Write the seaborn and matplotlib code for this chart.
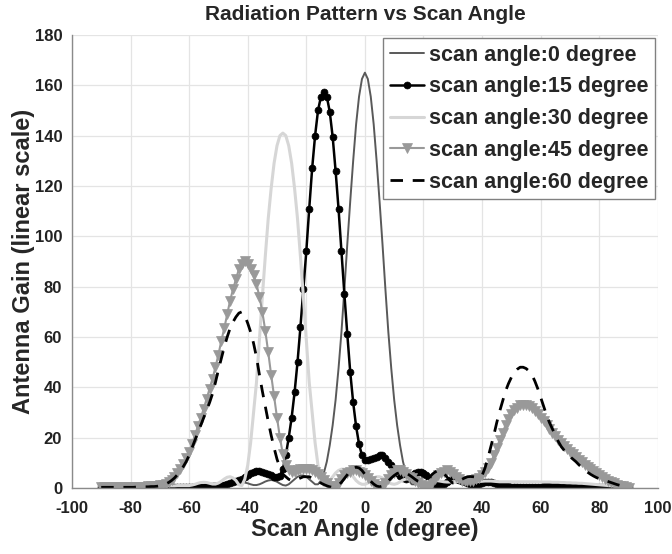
import matplotlib
matplotlib.use("Agg")
import matplotlib.pyplot as plt
import seaborn as sns

# scan angle grid (degrees)
angles = list(range(-90, 91))

# antenna gain, one value per degree from -90 to 90
gain_0 = [
    0.2, 0.2, 0.2, 0.2, 0.3, 0.3, 0.3, 0.3, 0.4, 0.4,
    0.4, 0.4, 0.5, 0.5, 0.5, 0.5, 0.5, 0.5, 0.5, 0.6,
    0.7, 0.7, 0.7, 0.6, 0.6, 0.6, 0.7, 0.8, 0.9, 1.0,
    1.0, 0.9, 0.8, 0.7, 0.7, 0.8, 1.0, 1.2, 1.3, 1.3,
    1.2, 1.0, 0.9, 0.9, 1.1, 1.4, 1.8, 2.1, 2.3, 2.2,
    1.9, 1.5, 1.2, 1.2, 1.5, 2.0, 2.6, 3.0, 3.2, 3.0,
    2.5, 1.8, 1.2, 1.0, 1.5, 2.5, 3.5, 4.5, 5.0, 5.0,
    4.5, 3.5, 2.5, 1.5, 1.5, 3.0, 6.0, 10.5, 17.0, 25.0,
    35.0, 47.5, 62.0, 79.0, 97.0, 114.0, 130.0, 144.5, 155.5, 162.5,
    165.0,
    162.5, 155.5, 144.5, 130.0, 114.0, 97.0, 79.0, 62.0, 47.5, 35.0,
    25.0, 17.0, 10.5, 6.0, 3.0, 1.5, 1.5, 2.5, 3.5, 4.5,
    5.0, 5.0, 4.5, 3.5, 2.5, 1.5, 1.0, 1.2, 1.8, 2.5,
    3.0, 3.2, 3.0, 2.6, 2.0, 1.5, 1.2, 1.2, 1.5, 1.9,
    2.2, 2.3, 2.1, 1.8, 1.4, 1.1, 0.9, 0.9, 1.0, 1.2,
    1.3, 1.3, 1.2, 1.0, 0.8, 0.7, 0.7, 0.8, 0.9, 1.0,
    1.0, 0.9, 0.8, 0.7, 0.6, 0.6, 0.6, 0.7, 0.7, 0.7,
    0.6, 0.5, 0.5, 0.5, 0.5, 0.5, 0.5, 0.5, 0.4, 0.4,
    0.4, 0.4, 0.3, 0.3, 0.3, 0.3, 0.2, 0.2, 0.2, 0.2,
]

gain_15 = [
    0.3, 0.3, 0.3, 0.3, 0.3, 0.3, 0.3, 0.3, 0.3, 0.3,
    0.3, 0.3, 0.3, 0.3, 0.3, 0.4, 0.4, 0.4, 0.4, 0.4,
    0.4, 0.4, 0.4, 0.5, 0.5, 0.5, 0.5, 0.5, 0.5, 0.5,
    0.5, 0.5, 0.6, 0.6, 0.6, 0.6, 0.7, 0.7, 0.8, 0.8,
    0.9, 1.1, 1.3, 1.6, 1.9, 2.3, 2.7, 3.2, 3.7, 4.3,
    5.0, 5.8, 6.5, 6.8, 6.8, 6.5, 6.0, 5.5, 5.0, 4.5,
    4.2, 4.8, 7.5, 13.0, 20.0, 28.0, 38.0, 50.0, 64.0, 79.0,
    94.0, 111.0, 127.0, 140.0, 150.0, 155.5, 157.5, 155.5, 149.5, 139.5,
    126.0, 111.0, 94.0, 77.0, 61.0, 46.0, 34.0, 24.5, 17.5, 13.0,
    11.0,
    11.0, 11.5, 12.0, 12.5, 13.0, 13.0, 12.0, 10.5, 9.0, 7.5,
    6.0, 4.8, 4.0, 3.8, 4.2, 5.0, 6.0, 6.5, 6.5, 6.0,
    5.0, 3.8, 2.6, 1.7, 1.2, 1.3, 1.8, 2.5, 3.2, 3.6,
    3.7, 3.4, 3.0, 2.5, 2.0, 1.6, 1.4, 1.5, 1.8, 2.2,
    2.5, 2.6, 2.5, 2.2, 1.8, 1.4, 1.1, 0.9, 0.7, 0.6,
    0.5, 0.5, 0.5, 0.5, 0.5, 0.5, 0.6, 0.6, 0.6, 0.6,
    0.7, 0.7, 0.7, 0.7, 0.7, 0.7, 0.7, 0.7, 0.7, 0.7,
    0.7, 0.7, 0.7, 0.7, 0.6, 0.6, 0.6, 0.6, 0.6, 0.5,
    0.5, 0.5, 0.5, 0.4, 0.4, 0.4, 0.3, 0.3, 0.3, 0.3,
]

gain_30 = [
    0.3, 0.3, 0.3, 0.3, 0.4, 0.4, 0.4, 0.4, 0.5, 0.5,
    0.5, 0.5, 0.6, 0.6, 0.6, 0.7, 0.7, 0.7, 0.8, 0.8,
    0.8, 0.8, 0.9, 0.9, 0.9, 0.9, 1.0, 1.0, 1.0, 1.0,
    1.0, 1.2, 1.5, 1.9, 2.2, 2.3, 2.2, 1.9, 1.6, 1.6,
    2.0, 2.7, 3.6, 4.3, 4.5, 4.0, 3.0, 1.3, 1.0, 3.5,
    9.0, 18.0, 30.0, 42.0, 59.0, 76.0, 92.0, 107.0, 119.0, 129.0,
    136.0, 140.0, 141.0, 140.0, 136.0, 129.0, 119.0, 107.0, 92.0, 76.0,
    59.0, 42.0, 30.0, 18.0, 9.0, 3.5, 1.0, 1.5, 3.0, 4.5,
    6.0, 7.0, 7.5, 7.5, 7.0, 6.0, 4.5, 3.0, 2.0, 1.5,
    1.5,
    2.0, 3.0, 4.0, 4.5, 4.5, 4.0, 3.2, 2.3, 1.7, 1.5,
    1.8, 2.5, 3.2, 3.6, 3.6, 3.3, 2.7, 2.2, 2.0, 2.2,
    2.5, 2.8, 3.0, 3.0, 2.9, 2.7, 2.5, 2.4, 2.4, 2.5,
    2.6, 2.7, 2.7, 2.6, 2.5, 2.4, 2.4, 2.5, 2.6, 2.7,
    2.8, 2.8, 2.8, 2.7, 2.6, 2.5, 2.5, 2.5, 2.5, 2.5,
    2.5, 2.5, 2.5, 2.5, 2.5, 2.5, 2.5, 2.5, 2.5, 2.4,
    2.4, 2.4, 2.4, 2.3, 2.3, 2.3, 2.2, 2.2, 2.1, 2.1,
    2.0, 2.0, 1.9, 1.9, 1.8, 1.7, 1.6, 1.5, 1.4, 1.3,
    1.2, 1.1, 1.0, 0.9, 0.8, 0.7, 0.6, 0.5, 0.4, 0.3,
]

gain_45 = [
    0.5, 0.5, 0.5, 0.5, 0.5, 0.5, 0.5, 0.5, 0.5, 0.5,
    0.5, 0.5, 0.5, 0.6, 0.6, 0.6, 0.7, 0.7, 0.8, 0.9,
    1.1, 1.4, 1.8, 2.4, 3.3, 4.4, 5.8, 7.5, 9.5, 12.0,
    14.5, 17.5, 21.0, 24.5, 28.0, 31.5, 35.5, 39.5, 43.5, 48.0,
    53.0, 58.5, 63.5, 69.0, 74.5, 79.0, 83.0, 87.0, 89.0, 90.0,
    89.0, 87.0, 84.5, 81.0, 76.0, 70.0, 62.5, 54.0, 45.0, 36.5,
    28.0, 20.0, 13.5, 9.0, 7.0, 6.5, 6.5, 7.0, 7.5, 7.5,
    7.5, 7.5, 7.0, 6.5, 5.5, 4.5, 3.2, 2.0, 1.0, 0.5,
    1.0, 2.0, 3.5, 5.0, 6.0, 6.5, 7.0, 7.0, 6.5, 6.0,
    5.0,
    4.0, 2.8, 1.6, 0.8, 0.5, 1.0, 2.0, 3.5, 5.0, 6.0,
    7.0, 7.0, 6.5, 5.5, 4.5, 4.0, 3.0, 2.0, 1.2, 0.6,
    0.5, 1.0, 2.0, 3.5, 5.0, 6.0, 6.5, 7.0, 6.5, 5.5,
    4.5, 3.5, 3.0, 3.0, 3.0, 3.0, 3.0, 3.5, 4.0, 5.0,
    6.5, 8.0, 10.0, 13.0, 16.0, 19.0, 22.0, 25.0, 27.5, 29.5,
    31.0, 32.0, 32.8, 33.0, 33.0, 32.5, 31.8, 30.8, 29.5, 28.0,
    26.5, 25.0, 23.5, 22.0, 20.5, 19.2, 18.0, 16.8, 15.6, 14.5,
    13.4, 12.3, 11.2, 10.2, 9.2, 8.3, 7.4, 6.6, 5.8, 5.0,
    4.3, 3.6, 3.0, 2.4, 1.9, 1.4, 1.0, 0.7, 0.4, 0.2,
]

gain_60 = [
    0.3, 0.3, 0.3, 0.3, 0.3, 0.3, 0.3, 0.3, 0.3, 0.3,
    0.3, 0.3, 0.4, 0.4, 0.4, 0.5, 0.5, 0.6, 0.6, 0.7,
    0.9, 1.2, 1.6, 2.2, 3.0, 4.0, 5.3, 6.8, 8.5, 10.5,
    13.0, 16.0, 19.0, 22.0, 25.0, 28.0, 31.0, 34.0, 37.5, 42.0,
    47.0, 51.5, 56.0, 60.0, 63.5, 66.0, 68.0, 69.5, 70.0, 68.5,
    65.5, 62.0, 57.5, 52.0, 45.0, 38.5, 32.5, 26.5, 21.0, 16.0,
    11.5, 8.0, 5.5, 4.5, 3.5, 3.0, 3.0, 3.5, 4.0, 4.5,
    4.5, 4.5, 4.0, 3.5, 2.8, 2.0, 1.4, 0.9, 0.5, 0.3,
    0.5, 1.2, 2.3, 3.8, 5.3, 6.8, 7.8, 8.3, 8.0, 7.0,
    5.5,
    4.0, 2.7, 1.6, 0.8, 0.5, 0.8, 1.6, 2.8, 4.0, 5.0,
    5.8, 6.2, 6.3, 6.0, 5.3, 4.5, 3.6, 2.8, 2.4, 2.6,
    3.3, 4.3, 5.5, 6.4, 7.0, 6.8, 5.8, 4.4, 3.0, 2.0,
    2.0, 2.6, 3.4, 4.0, 4.5, 4.6, 4.5, 4.3, 4.3, 5.0,
    8.0, 12.0, 16.5, 21.0, 26.0, 30.5, 34.5, 38.5, 41.5, 44.0,
    46.0, 47.2, 48.0, 48.0, 47.5, 46.5, 45.0, 42.5, 39.5, 36.0,
    32.5, 29.0, 26.0, 23.5, 21.0, 18.5, 16.5, 15.0, 13.5, 12.5,
    11.5, 10.5, 9.3, 8.2, 7.2, 6.3, 5.5, 4.8, 4.2, 3.7,
    3.3, 3.0, 2.6, 2.2, 1.8, 1.4, 1.1, 0.8, 0.5, 0.3,
]

series_labels = [
    "scan angle:0 degree",
    "scan angle:15 degree",
    "scan angle:30 degree",
    "scan angle:45 degree",
    "scan angle:60 degree",
]
x_ticks = list(range(-100, 101, 20))
y_ticks = list(range(0, 181, 20))

sns.set_style("white")
plt.rcParams["font.family"] = ["Liberation Sans", "DejaVu Sans"]
plt.rcParams["font.weight"] = "bold"
plt.rcParams["axes.unicode_minus"] = False

fig = plt.figure(figsize=(6.72, 5.54), dpi=100)
ax = fig.add_axes([0.107, 0.119, 0.872, 0.818])

styles = [
    dict(color="#595959", linewidth=1.4),
    dict(color="black", linewidth=1.8, marker="o", markersize=5,
         markeredgecolor="black", markeredgewidth=0.5),
    dict(color="#d6d6d6", linewidth=2.2),
    dict(color="#999999", linewidth=1.5, marker="v", markersize=7,
         markeredgecolor="#999999", markeredgewidth=0.5),
    dict(color="black", linewidth=2.0, linestyle=(0, (4.5, 3.5))),
]
gains = [gain_0, gain_15, gain_30, gain_45, gain_60]

for label, g, st in zip(series_labels, gains, styles):
    sns.lineplot(x=angles, y=g, ax=ax, label=label, estimator=None, sort=False, **st)

ax.set_xlim(-100, 100)
ax.set_ylim(0, 180)
ax.set_xticks(x_ticks)
ax.set_yticks(y_ticks)
ax.grid(True, color="#e4e4e4", linewidth=0.9)
ax.set_axisbelow(True)
for side in ["top", "right"]:
    ax.spines[side].set_visible(False)
for side in ["left", "bottom"]:
    ax.spines[side].set_color("#8a8a8a")
    ax.spines[side].set_linewidth(1.0)
ax.tick_params(direction="in", length=4, color="#8a8a8a", labelsize=12,
               labelcolor="#222222")
ax.tick_params(axis="x", pad=9)
ax.tick_params(axis="y", pad=7)

ax.set_title("Radiation Pattern vs Scan Angle", fontsize=15, fontweight="bold", pad=11)
ax.set_xlabel("Scan Angle (degree)", fontsize=17, fontweight="bold", labelpad=2)
ax.set_ylabel("Antenna Gain (linear scale)", fontsize=17, fontweight="bold", labelpad=0)

leg = ax.legend(loc="upper right", fontsize=15.5, frameon=True, fancybox=False,
                edgecolor="#808080", framealpha=1, borderpad=0.3, labelspacing=0.5,
                handlelength=1.6, handletextpad=0.2, borderaxespad=0.15, numpoints=1)
leg.get_frame().set_linewidth(1.0)
for t in leg.get_texts():
    t.set_fontweight("bold")

fig.savefig("out.png", dpi=100)
plt.close(fig)
